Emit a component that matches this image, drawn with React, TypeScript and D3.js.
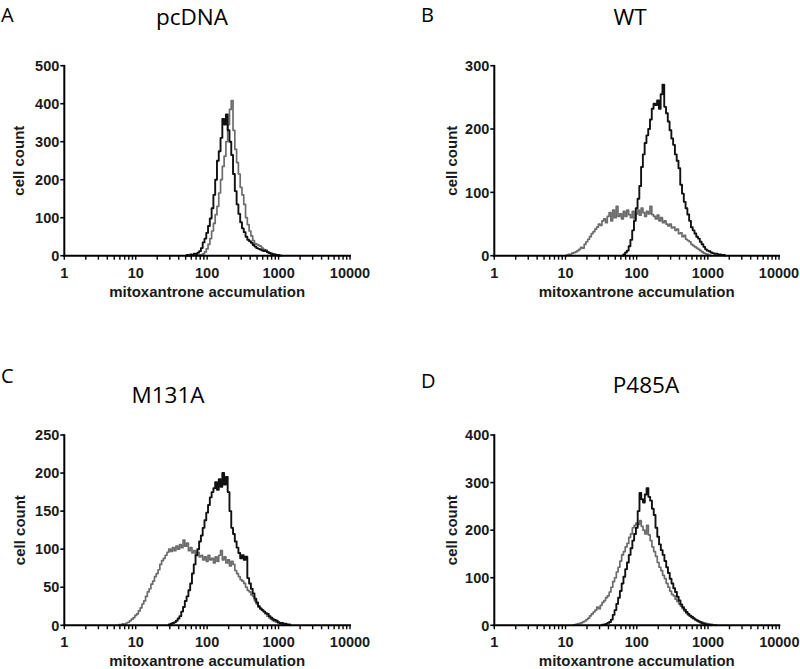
import React from 'react';
import * as d3 from 'd3';

// ---------- DATA ----------
const BIN_WIDTH = 0.025; // decades per histogram channel
const xTickValues = [1, 10, 100, 1000, 10000];
const xTickLabels = ['1', '10', '100', '1000', '10000'];
const panelLetters = ['A', 'B', 'C', 'D'];
const panelTitles = ['pcDNA', 'WT', 'M131A', 'P485A'];
const yMaxima = [500, 300, 250, 400];
const yTickSteps = [100, 100, 50, 100];
const yAxisLabel = 'cell count';
const xAxisLabel = 'mitoxantrone accumulation';

// start = log10 of first channel
const pcdnaGrayStart = 1.85;
const pcdnaGray = [0, 1, 2, 3, 5, 10, 18, 30, 45, 65,
  85, 108, 130, 165, 200, 235, 262, 300, 345, 385,
  408, 330, 280, 245, 215, 180, 160, 135, 100, 82,
  65, 52, 40, 32, 30, 27, 25, 20, 16, 12,
  10, 8, 6, 4, 3, 2, 2, 1, 0];
const pcdnaBlackStart = 1.70;
const pcdnaBlack = [0, 2, 0, 3, 2, 5, 4, 8, 12, 20,
  35, 45, 60, 78, 98, 125, 160, 200, 250, 275,
  310, 360, 345, 372, 330, 300, 265, 215, 170, 135,
  110, 88, 72, 62, 50, 42, 38, 34, 28, 24,
  20, 18, 16, 14, 12, 14, 9, 7, 5, 4,
  3, 2, 1, 0];

const wtGrayStart = 1.00;
const wtGray = [0, 1, 2, 2, 4, 5, 6, 8, 10, 13,
  12, 18, 22, 26, 30, 35, 38, 42, 45, 50,
  48, 55, 58, 52, 62, 68, 55, 72, 60, 78,
  62, 66, 58, 70, 62, 72, 65, 60, 70, 58,
  66, 72, 64, 75, 68, 62, 70, 66, 78, 65,
  62, 58, 64, 55, 60, 52, 55, 50, 47, 50,
  44, 45, 40, 42, 35, 36, 30, 32, 26, 24,
  22, 18, 16, 14, 12, 10, 8, 6, 4, 3,
  2, 1, 0];
const wtBlackStart = 1.80;
const wtBlack = [0, 2, 5, 8, 15, 25, 40, 55, 75, 90,
  110, 140, 160, 178, 190, 200, 215, 232, 240, 238,
  245, 232, 255, 270, 235, 225, 212, 198, 185, 175,
  160, 150, 138, 112, 98, 85, 75, 65, 55, 45,
  40, 35, 30, 27, 22, 18, 14, 10, 8, 7,
  5, 4, 3, 3, 2, 2, 1, 1, 0];

const m131aGrayStart = 0.75;
const m131aGray = [0, 1, 1, 2, 1, 3, 4, 6, 8, 10,
  13, 15, 19, 23, 28, 32, 38, 44, 48, 54,
  58, 64, 68, 73, 80, 85, 88, 92, 96, 100,
  97, 102, 98, 104, 100, 106, 102, 112, 104, 108,
  98, 102, 95, 98, 92, 96, 90, 92, 86, 90,
  84, 92, 86, 88, 82, 90, 84, 92, 98, 86,
  90, 82, 86, 78, 84, 80, 72, 68, 64, 60,
  58, 55, 50, 46, 44, 40, 38, 32, 28, 24,
  22, 20, 18, 15, 12, 10, 8, 6, 5, 4,
  3, 2, 1, 0];
const m131aBlackStart = 1.45;
const m131aBlack = [0, 1, 2, 3, 4, 6, 9, 12, 18, 24,
  32, 38, 46, 55, 68, 80, 92, 100, 110, 118,
  128, 138, 148, 158, 168, 175, 180, 188, 178, 192,
  182, 200, 185, 195, 175, 150, 128, 120, 110, 102,
  95, 88, 92, 86, 90, 62, 55, 48, 42, 35,
  30, 25, 22, 20, 18, 16, 15, 12, 10, 8,
  7, 6, 4, 3, 3, 2, 2, 1, 1, 0];

const p485aGrayStart = 1.10;
const p485aGray = [0, 1, 2, 3, 4, 5, 7, 9, 12, 15,
  20, 24, 28, 32, 38, 35, 42, 48, 52, 58,
  62, 70, 80, 92, 100, 112, 122, 135, 148, 155,
  165, 172, 185, 192, 205, 210, 215, 212, 220, 208,
  200, 192, 210, 190, 178, 165, 155, 145, 132, 122,
  115, 105, 98, 88, 80, 72, 65, 62, 55, 50,
  45, 40, 35, 30, 26, 22, 20, 16, 14, 12,
  10, 8, 7, 6, 5, 4, 3, 2, 2, 1,
  1, 0];
const p485aBlackStart = 1.50;
const p485aBlack = [0, 1, 2, 3, 5, 7, 12, 22, 32, 45,
  58, 72, 88, 102, 118, 132, 148, 162, 178, 192,
  205, 240, 278, 265, 258, 275, 288, 270, 262, 245,
  232, 205, 186, 170, 158, 148, 135, 122, 110, 98,
  88, 78, 70, 60, 52, 44, 38, 33, 28, 24,
  20, 18, 15, 12, 10, 8, 6, 4, 3, 2,
  1, 1, 0];

const grayStarts = [pcdnaGrayStart, wtGrayStart, m131aGrayStart, p485aGrayStart];
const graySeries = [pcdnaGray, wtGray, m131aGray, p485aGray];
const blackStarts = [pcdnaBlackStart, wtBlackStart, m131aBlackStart, p485aBlackStart];
const blackSeries = [pcdnaBlack, wtBlack, m131aBlack, p485aBlack];

// ---------- LAYOUT ----------
const layouts = [
  { left: 64.3, right: 350, top: 65.7, bottom: 255.7, letterX: 1, letterY: 22, titleX: 192, titleY: 25, ylabX: 19 },
  { left: 494.3, right: 779, top: 65.7, bottom: 255.7, letterX: 421, letterY: 22, titleX: 630, titleY: 25, ylabX: 452 },
  { left: 64.3, right: 350, top: 435, bottom: 625.3, letterX: 1, letterY: 383, titleX: 168, titleY: 403, ylabX: 20 },
  { left: 494.3, right: 779.3, top: 435, bottom: 625.3, letterX: 421, letterY: 388, titleX: 646, titleY: 393, ylabX: 452 },
];

const AXIS_FONT = 'Liberation Sans, Arial, sans-serif';
const TITLE_FONT = 'Open Sans, sans-serif';
const GRAY = '#6c6c6c';
const BLACK = '#111111';

function Panel({ idx }: { idx: number }) {
  const L = layouts[idx];
  const x = d3.scaleLog().domain([1, 10000]).range([L.left, L.right]);
  const y = d3.scaleLinear().domain([0, yMaxima[idx]]).range([L.bottom, L.top]);
  const yTicks = d3.range(0, yMaxima[idx] + 1, yTickSteps[idx]);
  const minorTicks: number[] = [];
  for (let d = 1; d < 10000; d *= 10) {
    for (let k = 1; k < 10; k++) minorTicks.push(d * k);
  }
  minorTicks.push(10000);

  const line = d3
    .line<[number, number]>()
    .x((p) => x(Math.pow(10, p[0])))
    .y((p) => y(p[1]))
    .curve(d3.curveStep);

  const toPts = (start: number, vals: number[]) =>
    vals.map((v, i) => [start + i * BIN_WIDTH, v] as [number, number]);

  const cx = (L.left + L.right) / 2;
  const ylabY = (L.top + L.bottom) / 2;

  return (
    <g>
      <text x={L.letterX} y={L.letterY} fontFamily={TITLE_FONT} fontSize={20} fill="#000">
        {panelLetters[idx]}
      </text>
      <text x={L.titleX} y={L.titleY} fontFamily={TITLE_FONT} fontSize={22.5} textAnchor="middle" fill="#000">
        {panelTitles[idx]}
      </text>
      {/* curves */}
      <path d={line(toPts(grayStarts[idx], graySeries[idx])) || ''} fill="none" stroke={GRAY} strokeWidth={1.7} strokeLinejoin="round" />
      <path d={line(toPts(blackStarts[idx], blackSeries[idx])) || ''} fill="none" stroke={BLACK} strokeWidth={1.9} strokeLinejoin="round" />
      {/* y axis */}
      <line x1={L.left} x2={L.left} y1={L.top - 0.8} y2={L.bottom + 1} stroke="#000" strokeWidth={2} />
      {yTicks.map((t) => (
        <g key={'y' + t}>
          <line x1={L.left - 4} x2={L.left} y1={y(t)} y2={y(t)} stroke="#000" strokeWidth={1.6} />
          <text x={L.left - 5} y={y(t)} dy="0.36em" textAnchor="end" fontFamily={AXIS_FONT} fontWeight="bold" fontSize={14.5} fill="#1a1a1a">
            {t}
          </text>
        </g>
      ))}
      <text transform={`translate(${L.ylabX},${ylabY}) rotate(-90)`} dy="0.36em" textAnchor="middle" fontFamily={AXIS_FONT} fontWeight="bold" fontSize={15} fill="#1a1a1a">
        {yAxisLabel}
      </text>
      {/* x axis */}
      <line x1={L.left - 1} x2={L.right + 1} y1={L.bottom} y2={L.bottom} stroke="#000" strokeWidth={2} />
      {minorTicks.map((t, i) => (
        <line key={'m' + i} x1={x(t)} x2={x(t)} y1={L.bottom} y2={L.bottom + 4} stroke="#000" strokeWidth={1.4} />
      ))}
      {xTickValues.map((t, i) => (
        <text key={'x' + t} x={x(t)} y={L.bottom + 22} textAnchor="middle" fontFamily={AXIS_FONT} fontWeight="bold" fontSize={14.5} fill="#1a1a1a">
          {xTickLabels[i]}
        </text>
      ))}
      <text x={cx} y={L.bottom + 41} textAnchor="middle" fontFamily={AXIS_FONT} fontWeight="bold" fontSize={15} fill="#1a1a1a">
        {xAxisLabel}
      </text>
    </g>
  );
}

export default function App() {
  return (
    <svg width={800} height={669} style={{ position: 'absolute', left: 0, top: 0, background: '#fff' }}>
      <rect x={0} y={0} width={800} height={669} fill="#fff" />
      {[0, 1, 2, 3].map((i) => (
        <Panel key={i} idx={i} />
      ))}
    </svg>
  );
}
